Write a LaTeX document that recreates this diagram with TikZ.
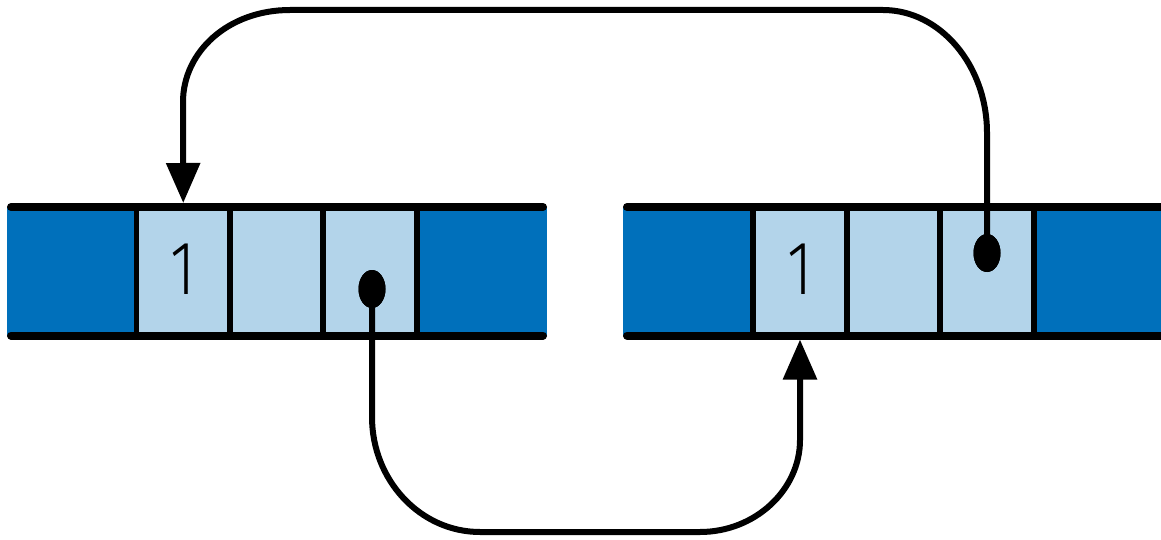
\documentclass[tikz,border=0pt]{standalone}
\usepackage{fontspec}
\newfontfamily\onefont{Fira Sans Light}
\usetikzlibrary{shapes.geometric,arrows.meta}
\definecolor{darkblue}{RGB}{0,112,187}
\definecolor{lightblue}{RGB}{179,212,234}
\tikzset{
  cell/.style={rectangle, inner sep=0pt, outer sep=0pt, minimum height=128.5pt, anchor=west},
  darkcell/.style={cell, fill=darkblue},
  lightcell/.style={cell, fill=lightblue, font=\onefont\fontsize{76}{76}\selectfont},
  rail/.style={line width=8pt, line cap=round},
  divider/.style={line width=5.5pt},
  conn/.style={line width=6pt},
  tip/.style={-{Triangle[length=40pt,width=33pt]}},
  dot/.style={ellipse, fill=black, inner sep=0pt, minimum width=27pt, minimum height=38pt}
}
\begin{document}
\begin{tikzpicture}[x=1pt,y=-1pt]
\useasboundingbox (0,0) rectangle (1161,540);
% left strip
\node[darkcell, minimum width=129.5pt] (L0) at (7,271.25) {};
\node[lightcell, minimum width=93.5pt] (L1) at (L0.east) {\raisebox{4pt}{\scalebox{0.8}[1]{1}}};
\node[lightcell, minimum width=93pt] (L2) at (L1.east) {};
\node[lightcell, minimum width=94pt] (L3) at (L2.east) {};
\node[darkcell, minimum width=130pt] (L4) at (L3.east) {};
% right strip
\node[darkcell, minimum width=130pt] (R0) at (623,271.25) {};
\node[lightcell, minimum width=94pt] (R1) at (R0.east) {\raisebox{4pt}{\scalebox{0.8}[1]{1}}};
\node[lightcell, minimum width=93pt] (R2) at (R1.east) {};
\node[lightcell, minimum width=94pt] (R3) at (R2.east) {};
\node[darkcell, minimum width=140pt] (R4) at (R3.east) {};
% rails
\draw[rail] ([xshift=4pt]L0.north west) -- ([xshift=-4pt]L4.north east);
\draw[rail] ([xshift=4pt]L0.south west) -- ([xshift=-4pt]L4.south east);
\draw[rail] ([xshift=4pt]R0.north west) -- ([xshift=10pt]R4.north east);
\draw[rail] ([xshift=4pt]R0.south west) -- ([xshift=10pt]R4.south east);
% dividers
\foreach \c in {L0,L1,L2,L3,R0,R1,R2,R3}{
  \draw[divider] (\c.north east) -- (\c.south east);
}
% dots
\node[dot] (dL) at (372,289) {};
\node[dot] (dR) at (987,253) {};
% connectors
\draw[conn, tip] (dR.center) -- (987,133) .. controls (987,65) and (940,10) .. (883,10)
  -- (290,10) .. controls (228,10) and (183,52) .. (183,102) -- ([yshift=4pt]L1.north);
\draw[conn, tip] (dL.center) -- (372,417) .. controls (372,480) and (420,532) .. (480,532)
  -- (700,532) .. controls (755,532) and (800,490) .. (800,440) -- ([yshift=-4pt]R1.south);
% redraw dots on top
\node[dot] at (dL) {};
\node[dot] at (dR) {};
\end{tikzpicture}
\end{document}
